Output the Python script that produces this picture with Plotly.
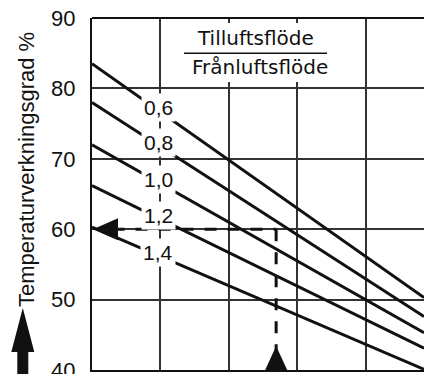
import plotly.graph_objects as go

# ---- data ----
ratio_labels = ["0,6", "0,8", "1,0", "1,2", "1,4"]
x_ends = [0, 4.85]
eff_start = [83.5, 78.0, 72.0, 66.2, 60.3]
eff_end = [50.3, 47.6, 45.3, 43.1, 40.1]
label_x = 0.97
ref_x = 2.69
ref_eff = 60
y_ticks = [40, 50, 60, 70, 80, 90]

W, H = 424, 374
ML, MT, MB, MR = 92, 18, 4, 0
PW, PH = W - ML - MR, H - MT - MB

def px_x(px):
    return (px - ML) / PW

def px_y(py):
    return (H - MB - py) / PH

FONT = "Liberation Sans, Arial, Helvetica, sans-serif"

fig = go.Figure()
for lab, a, b in zip(ratio_labels, eff_start, eff_end):
    fig.add_trace(go.Scatter(x=x_ends, y=[a, b], mode="lines",
                             line=dict(color="#111", width=3),
                             hoverinfo="skip", showlegend=False))

annotations = []
for lab, a, b in zip(ratio_labels, eff_start, eff_end):
    yv = a + (b - a) * (label_x - x_ends[0]) / (x_ends[1] - x_ends[0])
    annotations.append(dict(x=label_x, y=yv, xref="x", yref="y", text=lab,
                            xanchor="center", yanchor="middle",
                            showarrow=False, bgcolor="white", borderpad=2,
                            yshift=3,
                            font=dict(family=FONT, size=21, color="#111")))

# fraction text
annotations.append(dict(x=px_x(255.5), y=px_y(38), xref="paper", yref="paper",
                        xanchor="center", yanchor="middle",
                        text="Tilluftsflöde", showarrow=False,
                        font=dict(family="DejaVu Sans", size=20, color="#111")))
annotations.append(dict(x=px_x(260), y=px_y(67), xref="paper", yref="paper",
                        xanchor="center", yanchor="middle",
                        text="Frånluftsflöde", showarrow=False,
                        font=dict(family="DejaVu Sans", size=20, color="#111")))
# y title
annotations.append(dict(x=px_x(27), y=px_y(170), xref="paper", yref="paper",
                        xanchor="center", yanchor="middle",
                        text="Temperaturverkningsgrad %", textangle=-90,
                        showarrow=False,
                        font=dict(family=FONT, size=22, color="#111")))

shapes = []
# top border
shapes.append(dict(type="line", xref="paper", yref="paper", x0=0, x1=1, y0=1, y1=1,
                   line=dict(color="#111", width=2), layer="above"))
# white box behind fraction text
shapes.append(dict(type="rect", xref="paper", yref="paper",
                   x0=px_x(180), x1=px_x(342), y0=px_y(82), y1=px_y(23),
                   fillcolor="white", line=dict(width=0), layer="above"))
# fraction bar
shapes.append(dict(type="line", xref="paper", yref="paper",
                   x0=px_x(184), x1=px_x(327), y0=px_y(53.3), y1=px_y(53.3),
                   line=dict(color="#111", width=1.5), layer="above"))
# dashed reference lines
shapes.append(dict(type="line", xref="x", yref="y", x0=0.3, x1=ref_x, y0=ref_eff, y1=ref_eff,
                   line=dict(color="#111", width=3, dash="12px,11px"), layer="above"))
shapes.append(dict(type="line", xref="x", yref="y", x0=ref_x, x1=ref_x, y0=ref_eff, y1=y_ticks[0],
                   line=dict(color="#111", width=3, dash="12px,11px"), layer="above"))
# left arrow head at 60
shapes.append(dict(type="path", xref="x", yref="y", xsizemode="pixel", ysizemode="pixel",
                   xanchor=0, yanchor=ref_eff,
                   path="M1,0 L26,11 L26,-11 Z",
                   fillcolor="#111", line=dict(width=0), layer="above"))
# bottom arrow head
shapes.append(dict(type="path", xref="x", yref="y", xsizemode="pixel", ysizemode="pixel",
                   xanchor=ref_x, yanchor=y_ticks[0],
                   path="M-11,0 L11,0 L0,24 Z",
                   fillcolor="#111", line=dict(width=0), layer="above"))
# y title arrow
shapes.append(dict(type="path", xref="paper", yref="paper", xsizemode="pixel", ysizemode="pixel",
                   xanchor=px_x(22.8), yanchor=0,
                   path="M-5.5,-8 L-5.5,18 L-11.5,18 L0,62 L11.5,18 L5.5,18 L5.5,-8 Z",
                   fillcolor="#111", line=dict(width=0), layer="above"))

fig.update_layout(
    width=W, height=H,
    margin=dict(l=ML, r=MR, t=MT, b=MB, pad=0, autoexpand=False),
    paper_bgcolor="white", plot_bgcolor="white",
    annotations=annotations, shapes=shapes,
    xaxis=dict(range=[x_ends[0], x_ends[1]], dtick=1, tick0=0, showgrid=True,
               gridcolor="#333", gridwidth=1.5, showticklabels=False, ticks="",
               showline=True, linecolor="#111", linewidth=2, zeroline=False,
               fixedrange=True, automargin=False),
    yaxis=dict(range=[y_ticks[0], y_ticks[-1]], tickvals=y_ticks, showgrid=True,
               gridcolor="#333", gridwidth=1.5, ticks="", ticklabelstandoff=10,
               ticklabeloverflow="allow", automargin=False,
               tickfont=dict(family=FONT, size=22, color="#111"),
               showline=True, linecolor="#111", linewidth=2, zeroline=False,
               fixedrange=True),
)
fig.write_html("out.html", config={"displayModeBar": False},
               post_script="document.body.style.margin='0';document.body.style.overflow='hidden';")
